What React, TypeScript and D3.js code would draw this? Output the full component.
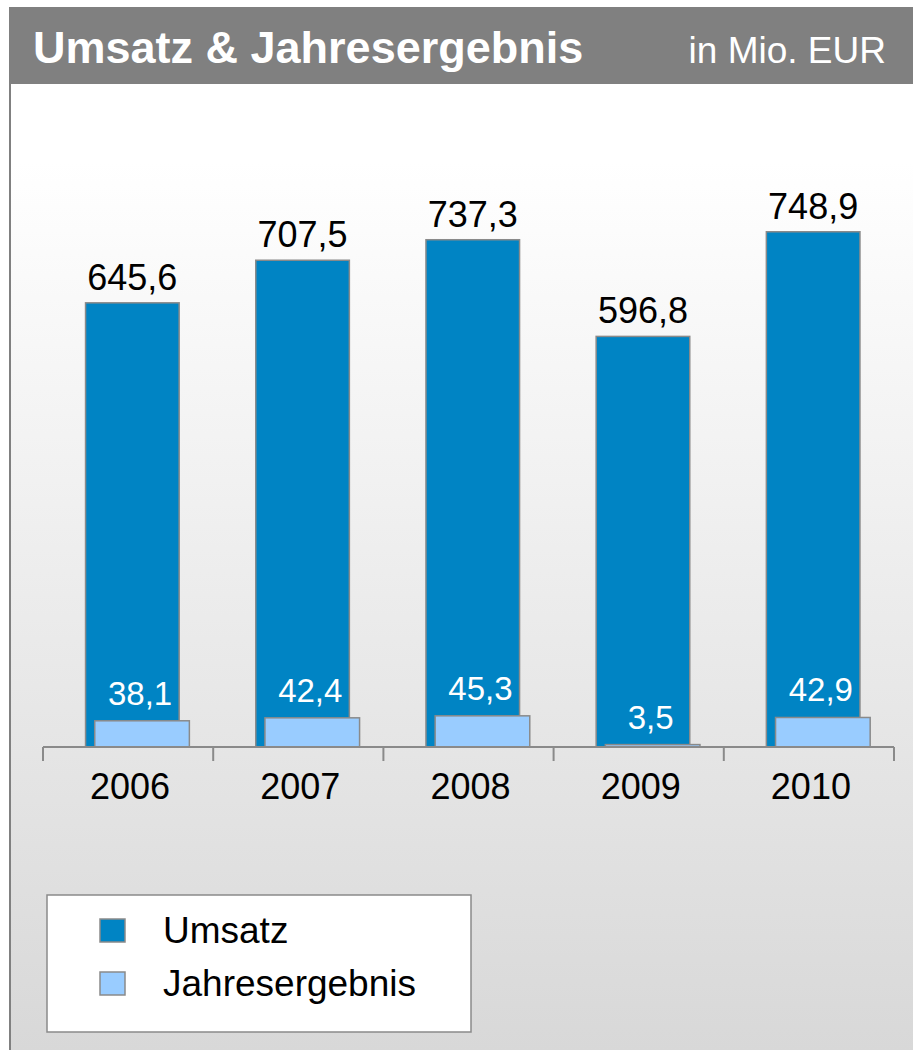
import React, { useEffect, useRef } from 'react';
import * as d3 from 'd3';

// Chart data
const YEARS = ['2006', '2007', '2008', '2009', '2010'];
const UMSATZ = [645.6, 707.5, 737.3, 596.8, 748.9];
const JAHRESERGEBNIS = [38.1, 42.4, 45.3, 3.5, 42.9];
const SERIES_NAMES = ['Umsatz', 'Jahresergebnis'];

const TITLE = 'Umsatz & Jahresergebnis';
const UNIT = 'in Mio. EUR';

const WIDTH = 913;
const HEIGHT = 1050;
const DARK = '#0084C4';
const LIGHT = '#99CCFF';
const EDGE = '#8a8a8a';
const FONT = 'Liberation Sans, Arial, sans-serif';

const fmt = (v: number) => v.toFixed(1).replace('.', ',');

const App: React.FC = () => {
  const svgRef = useRef<SVGSVGElement>(null);

  useEffect(() => {
    if (!svgRef.current) return;
    const svg = d3.select(svgRef.current);
    svg.selectAll('*').remove();

    // background gradient for the panel
    const defs = svg.append('defs');
    const grad = defs
      .append('linearGradient')
      .attr('id', 'panelBg')
      .attr('x1', 0)
      .attr('x2', 0)
      .attr('y1', 0)
      .attr('y2', 1);
    grad.append('stop').attr('offset', '0%').attr('stop-color', '#ffffff');
    grad.append('stop').attr('offset', '8%').attr('stop-color', '#ffffff');
    grad.append('stop').attr('offset', '100%').attr('stop-color', '#d8d8d8');

    svg.append('rect')
      .attr('x', 10)
      .attr('y', 84)
      .attr('width', WIDTH - 10)
      .attr('height', HEIGHT - 84)
      .attr('fill', 'url(#panelBg)');

    // left border of the panel
    svg.append('line')
      .attr('x1', 10)
      .attr('x2', 10)
      .attr('y1', 84)
      .attr('y2', HEIGHT)
      .attr('stroke', '#808080')
      .attr('stroke-width', 2);

    // ===== HEADER =====
    svg.append('rect')
      .attr('x', 9)
      .attr('y', 7)
      .attr('width', WIDTH - 9)
      .attr('height', 77)
      .attr('fill', '#808080');

    svg.append('text')
      .attr('x', 33)
      .attr('y', 63)
      .attr('fill', '#ffffff')
      .attr('font-family', FONT)
      .attr('font-size', '45px')
      .attr('font-weight', 'bold')
      .text(TITLE);

    svg.append('text')
      .attr('x', 886)
      .attr('y', 63)
      .attr('text-anchor', 'end')
      .attr('fill', '#ffffff')
      .attr('font-family', FONT)
      .attr('font-size', '37px')
      .text(UNIT);

    // ===== SCALES =====
    const x = d3.scaleBand<string>().domain(YEARS).range([43, 894]).padding(0);
    const step = x.step();
    const y = d3.scaleLinear().domain([0, 1000]).range([747, 59]);

    const darkX = (i: number) => (x(YEARS[i]) as number) + step * 0.25;
    const darkW = step * 0.55;
    const lightX = (i: number) => darkX(i) + step * 0.054;
    const lightW = step * 0.556;

    const chart = svg.append('g');

    // Umsatz bars
    chart.selectAll('.umsatz')
      .data(UMSATZ)
      .enter()
      .append('rect')
      .attr('class', 'umsatz')
      .attr('x', (_d, i) => darkX(i))
      .attr('y', (d) => y(d))
      .attr('width', darkW)
      .attr('height', (d) => y(0) - y(d))
      .attr('fill', DARK)
      .attr('stroke', EDGE)
      .attr('stroke-width', 1.5);

    // Jahresergebnis bars
    chart.selectAll('.ergebnis')
      .data(JAHRESERGEBNIS)
      .enter()
      .append('rect')
      .attr('class', 'ergebnis')
      .attr('x', (_d, i) => lightX(i))
      .attr('y', (d) => y(d))
      .attr('width', lightW)
      .attr('height', (d) => y(0) - y(d))
      .attr('fill', LIGHT)
      .attr('stroke', EDGE)
      .attr('stroke-width', 1.5);

    // value labels
    chart.selectAll('.umsatz-label')
      .data(UMSATZ)
      .enter()
      .append('text')
      .attr('class', 'umsatz-label')
      .attr('x', (_d, i) => darkX(i) + darkW / 2)
      .attr('y', (d) => y(d) - 13)
      .attr('text-anchor', 'middle')
      .attr('fill', '#000000')
      .attr('font-family', FONT)
      .attr('font-size', '36px')
      .text((d) => fmt(d));

    chart.selectAll('.ergebnis-label')
      .data(JAHRESERGEBNIS)
      .enter()
      .append('text')
      .attr('class', 'ergebnis-label')
      .attr('x', (_d, i) => lightX(i) + lightW / 2 - 2)
      .attr('y', (d) => y(d) - 16)
      .attr('text-anchor', 'middle')
      .attr('fill', '#ffffff')
      .attr('font-family', FONT)
      .attr('font-size', '33px')
      .text((d) => fmt(d));

    // ===== X AXIS =====
    const axisG = svg.append('g');
    axisG.append('line')
      .attr('x1', x.range()[0])
      .attr('x2', x.range()[1])
      .attr('y1', y(0))
      .attr('y2', y(0))
      .attr('stroke', '#8a8a8a')
      .attr('stroke-width', 2);

    const tickPositions = YEARS.map((yr) => x(yr) as number).concat([x.range()[1]]);
    axisG.selectAll('.tick')
      .data(tickPositions)
      .enter()
      .append('line')
      .attr('class', 'tick')
      .attr('x1', (d) => d)
      .attr('x2', (d) => d)
      .attr('y1', y(0))
      .attr('y2', y(0) + 14)
      .attr('stroke', '#8a8a8a')
      .attr('stroke-width', 2);

    axisG.selectAll('.year')
      .data(YEARS)
      .enter()
      .append('text')
      .attr('class', 'year')
      .attr('x', (d) => (x(d) as number) + step / 2 + 2)
      .attr('y', y(0) + 52)
      .attr('text-anchor', 'middle')
      .attr('fill', '#000000')
      .attr('font-family', FONT)
      .attr('font-size', '36px')
      .text((d) => d);

    // ===== LEGEND =====
    const legend = svg.append('g').attr('transform', 'translate(47,895)');
    legend.append('rect')
      .attr('width', 424)
      .attr('height', 137)
      .attr('fill', '#ffffff')
      .attr('stroke', '#8a8a8a')
      .attr('stroke-width', 1.5);

    SERIES_NAMES.forEach((name, i) => {
      const row = legend.append('g').attr('transform', `translate(0, ${i * 53})`);
      row.append('rect')
        .attr('x', 53)
        .attr('y', 24)
        .attr('width', 25)
        .attr('height', 23)
        .attr('fill', i === 0 ? DARK : LIGHT)
        .attr('stroke', EDGE)
        .attr('stroke-width', 1.5);
      row.append('text')
        .attr('x', 116)
        .attr('y', 48)
        .attr('fill', '#000000')
        .attr('font-family', FONT)
        .attr('font-size', '37px')
        .text(name);
    });
  }, []);

  return (
    <svg
      ref={svgRef}
      width={WIDTH}
      height={HEIGHT}
      style={{ display: 'block', position: 'absolute', left: 0, top: 0, background: '#ffffff' }}
    />
  );
};

export default App;
